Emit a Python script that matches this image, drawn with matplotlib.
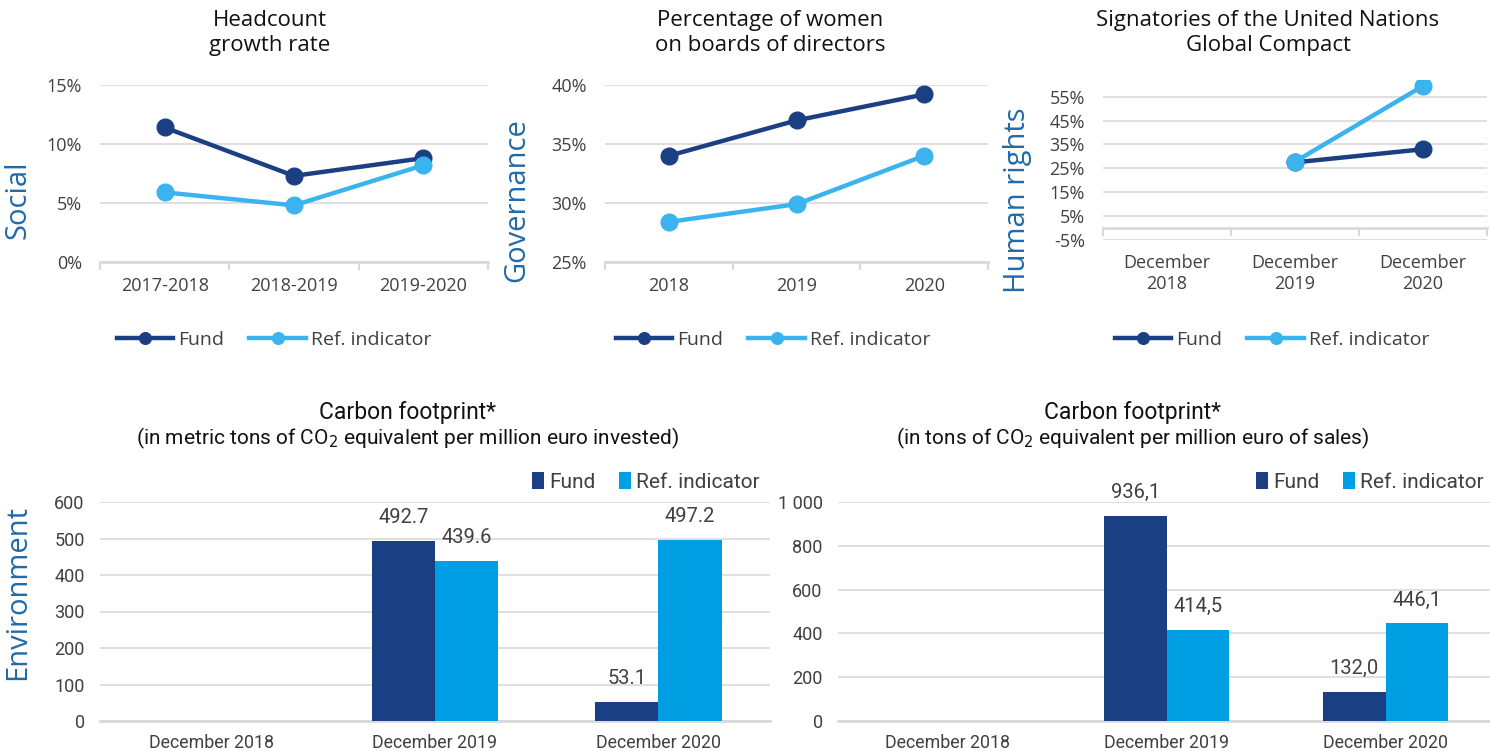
import matplotlib
matplotlib.use("Agg")
import matplotlib.pyplot as plt
import numpy as np
from matplotlib import font_manager
from matplotlib.ticker import FuncFormatter

# ── data ────────────────────────────────────────────────────────────────
SOCIAL_CATS = ["2017-2018", "2018-2019", "2019-2020"]
SOCIAL_FUND = [11.4, 7.3, 8.8]
SOCIAL_REF = [5.9, 4.8, 8.2]

GOV_CATS = ["2018", "2019", "2020"]
GOV_FUND = [34.0, 37.0, 39.2]
GOV_REF = [28.4, 29.9, 34.0]

HR_CATS = ["December\n2018", "December\n2019", "December\n2020"]
HR_FUND = [np.nan, 27.5, 33.0]
HR_REF = [np.nan, 27.8, 59.5]

ENV_CATS = ["December 2018", "December 2019", "December 2020"]
INV_FUND = [np.nan, 492.7, 53.1]
INV_REF = [np.nan, 439.6, 497.2]
SALES_FUND = [np.nan, 936.1, 132.0]
SALES_REF = [np.nan, 414.5, 446.1]

# ── style ───────────────────────────────────────────────────────────────
FUND_LINE = "#1b3f83"
REF_LINE = "#3bb3ee"
FUND_BAR = "#1b3f83"
REF_BAR = "#009fe3"
GRID = "#d9d9d9"
TICK = "#404040"
PILLAR = "#1f6aa8"

names = {f.name for f in font_manager.fontManager.ttflist}
MAIN = ["Open Sans", "DejaVu Sans"]
NARROW = (["Liberation Sans Narrow"] if "Liberation Sans Narrow" in names
          else ["Roboto"]) + ["DejaVu Sans"]
plt.rcParams["font.family"] = MAIN

W, H = 1490, 751
fig = plt.figure(figsize=(W / 100, H / 100), dpi=100)


def axes_px(left, top, right, bottom):
    return fig.add_axes([left / W, 1 - bottom / H, (right - left) / W,
                         (bottom - top) / H])


def pct(v, _):
    return f"{v:.0f}%"


def line_panel(ax, cats, fund, ref, title, title_x, pillar, pillar_x,
               ylim, yticks, legend_x):
    x = np.arange(len(cats))
    ax.plot(x, fund, color=FUND_LINE, lw=3.2, marker="o", ms=12,
            label="Fund", zorder=3)
    ax.plot(x, ref, color=REF_LINE, lw=3.2, marker="o", ms=12,
            label="Ref. indicator", zorder=4)
    ax.set_xlim(-0.5, len(cats) - 0.5)
    ax.set_ylim(*ylim)
    ax.set_yticks(yticks)
    ax.yaxis.set_major_formatter(FuncFormatter(pct))
    ax.set_xticks(x)
    ax.set_xticklabels(cats)
    ax.set_xticks(np.arange(len(cats) + 1) - 0.5, minor=True)
    ax.tick_params(axis="x", which="major", length=0, pad=11,
                   labelsize=13, labelcolor=TICK)
    ax.tick_params(axis="x", which="minor", length=6, width=1.5,
                   color=GRID)
    ax.tick_params(axis="y", length=0, pad=13, labelsize=13,
                   labelcolor=TICK)
    ax.grid(axis="y", color=GRID, lw=1.2)
    ax.set_axisbelow(True)
    for s in ("top", "right", "left"):
        ax.spines[s].set_visible(False)
    ax.spines["bottom"].set_color(GRID)
    ax.spines["bottom"].set_linewidth(2)
    fig.text(title_x / W, 1 - 33 / H, title, ha="center", va="center",
             fontsize=16, linespacing=1.25, color="#111111")
    fig.text(pillar_x / W, 1 - 200 / H, pillar, rotation=90, ha="center",
             va="center", fontsize=21, color=PILLAR)
    ax.legend(loc="center", bbox_to_anchor=(legend_x / W, 1 - 340 / H),
              bbox_transform=fig.transFigure, ncol=2, frameon=False,
              fontsize=14, handlelength=2.9, handletextpad=0.25,
              columnspacing=1.3, labelcolor=TICK, markerscale=0.7)


ax1 = axes_px(100, 85, 488, 262)
line_panel(ax1, SOCIAL_CATS, SOCIAL_FUND, SOCIAL_REF,
           "Headcount\ngrowth rate", 270, "Social", 18,
           (0, 15), [0, 5, 10, 15], 274)

ax2 = axes_px(605, 85, 988, 262)
line_panel(ax2, GOV_CATS, GOV_FUND, GOV_REF,
           "Percentage of women\non boards of directors", 770,
           "Governance", 517, (25, 40), [25, 30, 35, 40], 773)

ax3 = axes_px(1103, 80, 1487, 240)
line_panel(ax3, HR_CATS, HR_FUND, HR_REF,
           "Signatories of the United Nations\nGlobal Compact", 1268,
           "Human rights", 1017, (-5, 62), list(range(-5, 56, 10)), 1272)
ax3.spines["bottom"].set_position(("data", 0))
ax3.tick_params(axis="x", which="major", pad=19)


def bar_panel(ax, fund, ref, title, sub, title_x, ylim, yticks, ylab,
              vlab, legend_x):
    x = np.arange(len(ENV_CATS))
    w = 0.284
    b1 = ax.bar(x - w / 2, fund, w, color=FUND_BAR, label="Fund", zorder=3)
    b2 = ax.bar(x + w / 2, ref, w, color=REF_BAR, label="Ref. indicator",
                zorder=3)
    for bars, vals in ((b1, fund), (b2, ref)):
        for b, v in zip(bars, vals):
            if np.isnan(v):
                continue
            ax.annotate(vlab(v), (b.get_x() + b.get_width() / 2, v),
                        xytext=(0, 10), textcoords="offset points",
                        ha="center", va="bottom", fontsize=14.5,
                        color=TICK, family=NARROW)
    ax.set_xlim(-0.5, len(ENV_CATS) - 0.5)
    ax.set_ylim(*ylim)
    ax.set_yticks(yticks)
    ax.set_yticklabels(ylab)
    ax.set_xticks(x)
    ax.set_xticklabels(ENV_CATS)
    for lab in ax.get_xticklabels() + ax.get_yticklabels():
        lab.set_family(NARROW)
    ax.tick_params(axis="x", length=0, pad=9, labelsize=12.8,
                   labelcolor=TICK)
    ax.tick_params(axis="y", length=0, pad=11, labelsize=13,
                   labelcolor=TICK)
    ax.grid(axis="y", color=GRID, lw=1.2)
    ax.set_axisbelow(True)
    for s in ("top", "right", "left"):
        ax.spines[s].set_visible(False)
    ax.spines["bottom"].set_color(GRID)
    ax.spines["bottom"].set_linewidth(2)
    fig.text(title_x / W, 1 - 413 / H, title, ha="center", va="center",
             fontsize=16.5, color="#111111", family=NARROW)
    fig.text(title_x / W, 1 - 438 / H, sub, ha="center", va="center",
             fontsize=15, color="#111111", family=NARROW)
    ax.legend(loc="center", bbox_to_anchor=(legend_x / W, 1 - 482 / H),
              bbox_transform=fig.transFigure, ncol=2, frameon=False,
              prop={"family": NARROW, "size": 15}, handlelength=0.6,
              handleheight=0.85, handletextpad=0.25, columnspacing=1.1,
              labelcolor=TICK)


def dot1(v):
    return f"{v:.1f}"


def comma1(v):
    return f"{v:.1f}".replace(".", ",")


ax4 = axes_px(100, 502, 770, 721)
bar_panel(ax4, INV_FUND, INV_REF, "Carbon footprint*",
          "(in metric tons of CO$_2$ equivalent per million euro invested)",
          407, (0, 600), list(range(0, 601, 100)),
          [str(v) for v in range(0, 601, 100)], dot1, 646)
fig.text(18 / W, 1 - 593 / H, "Environment", rotation=90, ha="center",
         va="center", fontsize=21, color=PILLAR)

ax5 = axes_px(838, 502, 1495, 721)
bar_panel(ax5, SALES_FUND, SALES_REF, "Carbon footprint*",
          "(in tons of CO$_2$ equivalent per million euro of sales)",
          1133, (0, 1000), list(range(0, 1001, 200)),
          ["0", "200", "400", "600", "800", "1 000"], comma1, 1370)

fig.savefig("out.png", dpi=100)
